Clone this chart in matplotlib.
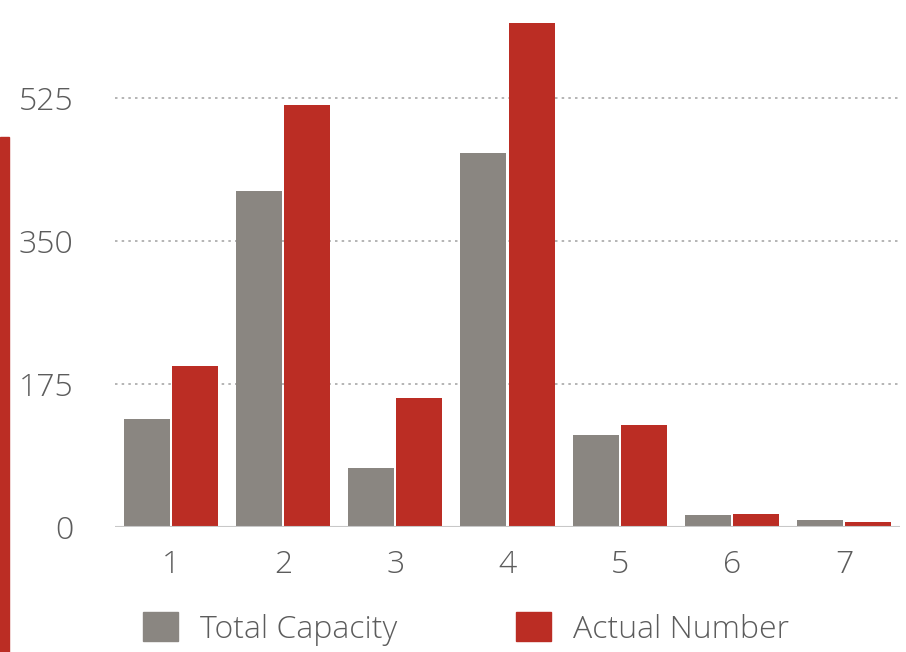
import matplotlib.pyplot as plt
import numpy as np
from matplotlib.patches import Rectangle, Patch

categories = ['1', '2', '3', '4', '5', '6', '7']
total_capacity = [132, 411, 72, 458, 113, 15, 9]
actual_number = [197, 516, 158, 617, 125, 16, 6]
y_ticks = [0, 175, 350, 525]
series_names = ['Total Capacity', 'Actual Number']

GREY = '#8a8681'
RED = '#bb2d24'
TXT = '#5c5c5c'

plt.rcParams['font.family'] = ['Open Sans', 'DejaVu Sans']

fig = plt.figure(figsize=(9.06, 6.52), dpi=100)
ax = fig.add_axes([115 / 906, 1 - 527 / 652, 785 / 906, 527 / 652])

x = np.arange(1, len(categories) + 1)
w = 0.41
ax.bar(x - 0.215, total_capacity, w, color=GREY, zorder=2)
ax.bar(x + 0.215, actual_number, w, color=RED, zorder=2)

ax.set_xlim(0.5, 7.5)
ax.set_ylim(0, 645)
ax.set_yticks(y_ticks)
ax.set_yticklabels([str(v) for v in y_ticks])
ax.set_xticks(x)
ax.set_xticklabels(categories)

for v in y_ticks[1:]:
    ax.axhline(v, color='#a8a8a8', lw=1.2, ls=(0, (1.5, 2.5)), zorder=1)
ax.axhline(0, color='#c8c8c8', lw=1.5, zorder=3)

for s in ax.spines.values():
    s.set_visible(False)
ax.tick_params(axis='both', length=0, labelsize=23, labelcolor=TXT)
ax.tick_params(axis='y', pad=30)
ax.tick_params(axis='x', pad=16)
for lab in ax.get_xticklabels() + ax.get_yticklabels():
    lab.set_fontweight('light')

# red stripe on the left edge
fig.patches.append(Rectangle((0, 0), 9 / 906, (652 - 137) / 652,
                             transform=fig.transFigure, color=RED, zorder=0))

handles = [Patch(color=GREY), Patch(color=RED)]
leg = fig.legend(handles, series_names, loc='center left', ncol=2, frameon=False,
                 bbox_to_anchor=(114 / 906, 1 - 629 / 652), fontsize=23,
                 handlelength=1.1, handleheight=1.0, handletextpad=0.7,
                 columnspacing=3.7)
for t in leg.get_texts():
    t.set_color(TXT)
    t.set_fontweight('light')

fig.savefig('out.png', dpi=100)
